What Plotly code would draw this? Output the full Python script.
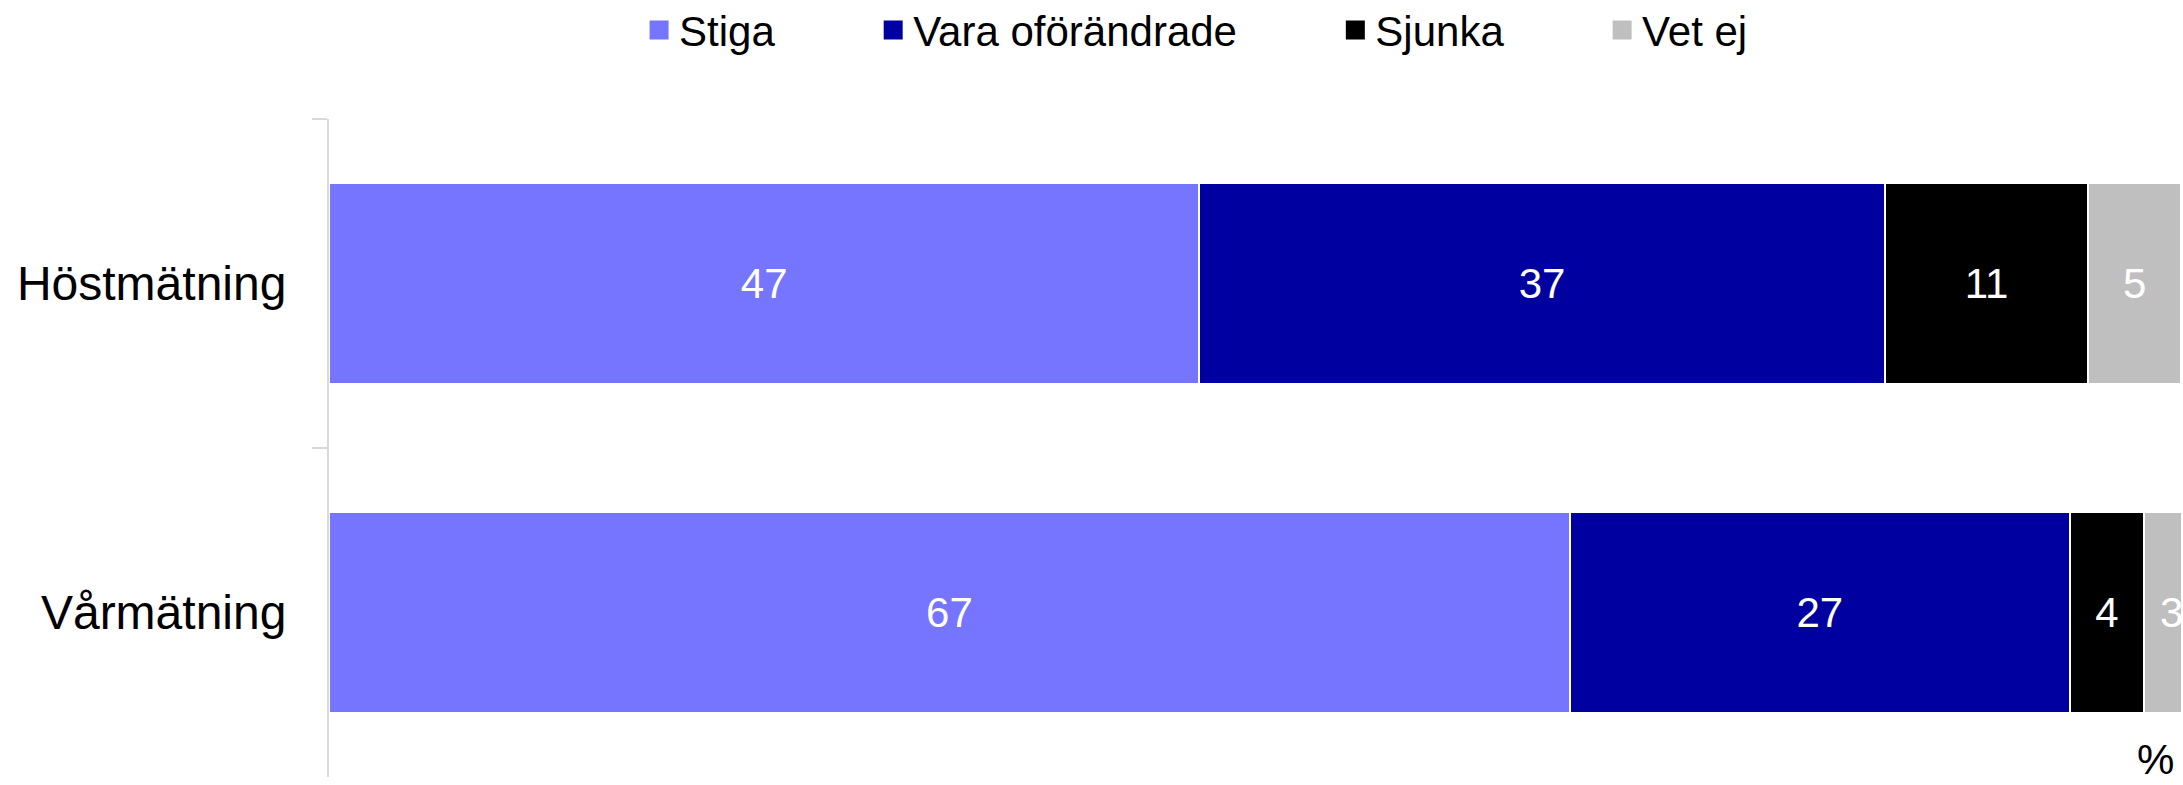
import plotly.graph_objects as go

categories = ["Höstmätning", "Vårmätning"]
series_names = ["Stiga", "Vara oförändrade", "Sjunka", "Vet ej"]
stiga = [47, 67]
vara = [37, 27]
sjunka = [11, 4]
vetej = [5, 3]
series_values = [stiga, vara, sjunka, vetej]
colors = ["#7575FF", "#0000A0", "#000000", "#BFBFBF"]

FONT = "Arial, Liberation Sans, sans-serif"
PAD = "\u00a0" * 8

fig = go.Figure()
for name, vals, col in zip(series_names, series_values, colors):
    fig.add_trace(go.Bar(
        x=vals, y=categories, orientation="h", name=name,
        marker=dict(color=col, line=dict(color="white", width=2)),
        text=[str(v) for v in vals], textposition="inside",
        insidetextanchor="middle", textangle=0,
        textfont=dict(color="white", size=42, family=FONT),
        showlegend=False, legendgroup=name, cliponaxis=True,
    ))
# legend entries
for name, col in zip(series_names, colors):
    fig.add_trace(go.Scatter(
        x=[None], y=[None], mode="markers", name=name + PAD,
        marker=dict(symbol="square", size=16, color=col, line=dict(color=col, width=3)),
        legendgroup=name, showlegend=True,
    ))

fig.update_layout(
    width=2183, height=785,
    margin=dict(l=329, r=2, t=119, b=8, autoexpand=False),
    barmode="stack", bargap=0.39,
    plot_bgcolor="white", paper_bgcolor="white",
    font=dict(family=FONT, color="black"),
    legend=dict(orientation="h", x=0.4933, xanchor="center", y=1.135, yanchor="middle",
                font=dict(size=42, family=FONT, color="black"),
                bgcolor="rgba(0,0,0,0)"),
    xaxis=dict(range=[0, 100], showgrid=False, zeroline=False, showline=False,
               showticklabels=False, ticks="", automargin=False),
    yaxis=dict(type="category", categoryorder="array", categoryarray=categories,
               range=[1.5, -0.5], showgrid=False, zeroline=False, automargin=False,
               showline=True, linecolor="#D9D9D9", linewidth=2,
               ticks="outside", ticklen=15, tickwidth=2, tickcolor="#D9D9D9",
               tickson="boundaries", ticklabelstandoff=31,
               tickfont=dict(size=48, family=FONT, color="black")),
    annotations=[dict(text="%", xref="paper", yref="paper", x=0.986, y=0.027,
                      xanchor="center", yanchor="middle", showarrow=False,
                      font=dict(size=42, family=FONT, color="black"))],
)

fig.write_html(
    "out.html",
    config={"displayModeBar": False},
    post_script="document.body.style.margin='0';document.body.style.overflow='hidden';",
)
